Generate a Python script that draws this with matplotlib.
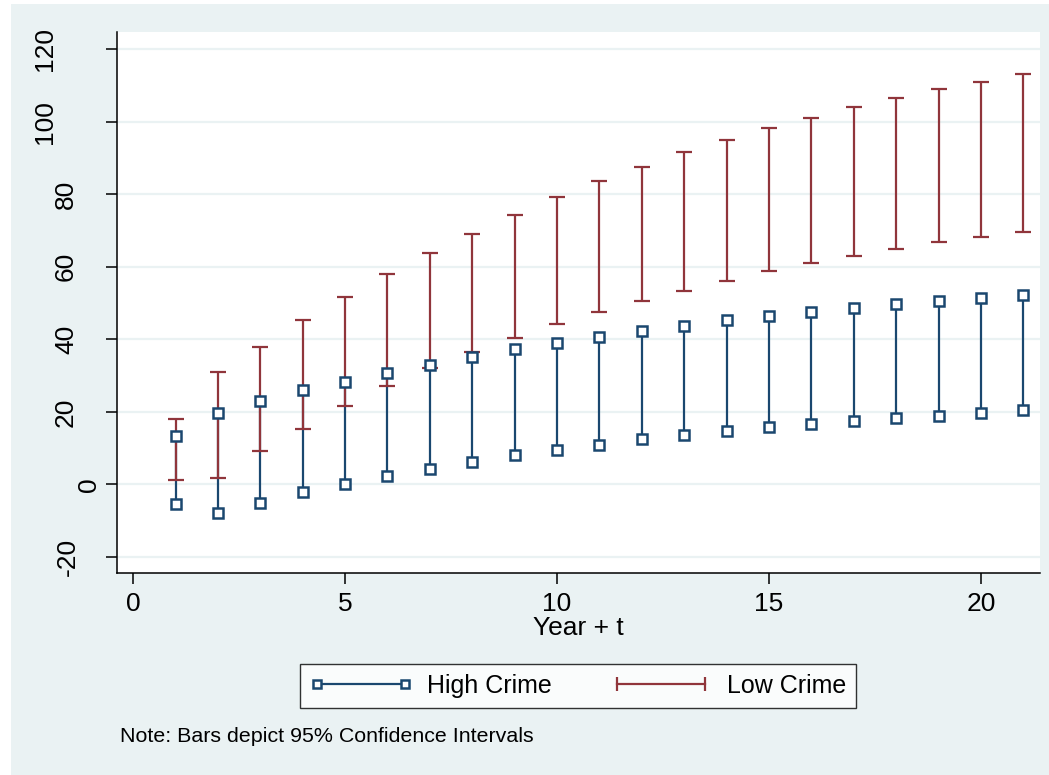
import matplotlib
matplotlib.use('Agg')
import matplotlib.pyplot as plt
from matplotlib.lines import Line2D
from matplotlib.patches import Rectangle
from matplotlib.transforms import blended_transform_factory
import numpy as np

# Data
years = list(range(1, 22))
high_upper = [13.4, 19.7, 22.9, 25.9, 28.3, 30.8, 33.0, 35.2, 37.3, 39.0, 40.7,
              42.3, 43.8, 45.2, 46.5, 47.6, 48.7, 49.7, 50.5, 51.4, 52.2]
high_lower = [-5.3, -8.0, -5.2, -2.2, 0.0, 2.2, 4.4, 6.3, 8.1, 9.6, 11.0,
              12.4, 13.7, 14.6, 15.7, 16.8, 17.6, 18.3, 19.0, 19.8, 20.4]
low_upper = [18.1, 30.9, 38.0, 45.2, 51.8, 58.1, 63.9, 69.1, 74.4, 79.1, 83.5,
             87.6, 91.5, 94.8, 98.3, 101.1, 104.1, 106.6, 109.1, 111.0, 113.2]
low_lower = [1.2, 1.8, 9.1, 15.4, 21.5, 27.0, 32.0, 36.4, 40.5, 44.1, 47.4,
             50.7, 53.4, 56.2, 58.7, 60.9, 63.1, 65.0, 66.7, 68.3, 69.7]

yticks = [-20, 0, 20, 40, 60, 80, 100, 120]
xticks = [0, 5, 10, 15, 20]

# Stata places rotated y labels at uneven x positions (pixel centres)
ylabel_x_px = [65, 86, 63, 63, 63, 63, 42, 42]

W, H = 1049, 775
BLUE = '#1A476F'
RED = '#90353B'
BG = '#EAF2F3'

plt.rcParams['font.family'] = ['Liberation Sans', 'DejaVu Sans']

fig = plt.figure(figsize=(W / 100, H / 100), dpi=100)
fig.patch.set_facecolor('white')
fig.patches.append(Rectangle((11 / W, 0), 1, 1 - 4 / H, transform=fig.transFigure,
                             facecolor=BG, edgecolor='none', zorder=-10))

ax = fig.add_axes([117 / W, 1 - 573 / H, (1040 - 117) / W, (573 - 32) / H])
ax.set_facecolor('white')

# ── High crime: vertical bars with hollow square ends ─────────────────────
ax.vlines(years, high_lower, high_upper, color=BLUE, linewidth=1.6, zorder=2)

# ── Low crime: capped error bars ───────────────────────────────────────────
yl = np.array(low_lower)
yu = np.array(low_upper)
ax.errorbar(years, yl, yerr=[np.zeros_like(yl), yu - yl], fmt='none',
            ecolor=RED, elinewidth=1.6, capsize=6, capthick=1.6, zorder=3)

for ends in (high_upper, high_lower):
    ax.plot(years, ends, linestyle='none', marker='s', markersize=7,
            markerfacecolor='white', markeredgecolor=BLUE, markeredgewidth=1.8,
            zorder=4)

ax.set_xlim(-0.38, 21.39)
ax.set_ylim(-24.4, 124.7)
ax.set_xticks(xticks)
ax.set_yticks(yticks)
ax.set_yticklabels([])

trans = blended_transform_factory(fig.transFigure, ax.transData)
for v, px in zip(yticks, ylabel_x_px):
    ax.text((px + 3) / W, v, str(v), transform=trans, rotation=90,
            ha='center', va='center', fontsize=19, clip_on=False)

ax.grid(axis='y', color=BG, linewidth=1.6)
ax.set_axisbelow(True)
for s in ('top', 'right'):
    ax.spines[s].set_visible(False)
for s in ('left', 'bottom'):
    ax.spines[s].set_linewidth(1.1)
ax.tick_params(axis='both', direction='out', length=8, width=1.1, labelsize=19)
ax.tick_params(axis='x', pad=6)
ax.set_xlabel('Year + t', fontsize=19, labelpad=0)

handles = [
    Line2D([0], [0], color=BLUE, linewidth=1.6, marker='s', markersize=6,
           markerfacecolor='white', markeredgecolor=BLUE, markeredgewidth=1.8),
    Line2D([0], [0], color=RED, linewidth=1.6, marker='|', markersize=10,
           markeredgewidth=1.6),
]
leg = fig.legend(handles, ['High Crime', 'Low Crime'], loc='center',
                 bbox_to_anchor=(578 / W, 1 - 686 / H), ncol=2, fontsize=18,
                 numpoints=2, handlelength=4.1, handletextpad=0.6, columnspacing=2.3,
                 frameon=True, fancybox=False, borderpad=0.4)
leg.get_frame().set_edgecolor('black')
leg.get_frame().set_linewidth(1.0)

fig.text(120 / W, 1 - 737 / H, 'Note: Bars depict 95% Confidence Intervals',
         fontsize=15.4, va='center', ha='left')

fig.savefig('out.png', dpi=100)
plt.close(fig)
